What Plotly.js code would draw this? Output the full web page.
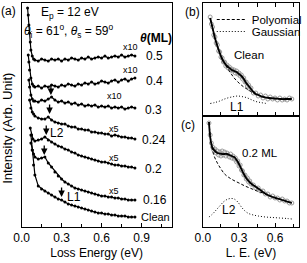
<!DOCTYPE html>
<html><head><meta charset="utf-8">
<script src="https://cdn.plot.ly/plotly-3.0.1.min.js"></script>
<style>html,body{margin:0;padding:0;background:#fff;} #chart{width:307px;height:263px;}</style>
</head><body><div id="chart"></div>
<script>
// ---------- Panel (a): loss spectra (offset, arbitrary units) ----------
const xGrid = [0.100,0.125,0.150,0.175,0.200,0.225,0.250,0.275,0.300,0.325,0.350,0.375,0.400,0.425,0.450,0.475,0.500,0.525,0.550,0.575,0.600,0.625,0.650,0.675,0.700,0.725,0.750,0.775,0.800,0.825,0.850];

const c05_leftX = [0.045,0.050,0.055,0.060,0.065,0.070,0.080,0.090];
const c05_leftY = [219,212,202,194,185,177,171,168];
const c05_y = [167,166,168,167,166,168,167,168,166,168,167,169,168,167,169,168,170,168,169,170,169,171,169,170,171,170,172,170,171,172,171];

const c04_leftX = [0.050,0.055,0.060,0.070,0.080,0.090];
const c04_leftY = [172,165,157,149,143,141];
const c04_y = [140,141,139,141,140,142,141,140,142,141,143,142,141,143,142,144,143,145,143,144,146,145,144,146,147,145,147,148,146,148,149];

const c03_leftX = [0.055,0.060,0.070,0.080,0.090];
const c03_leftY = [147,140,132,128,126];
const c03_y = [126,125,127,126,128,130,127,125,126,124,125,123,124,122,123,121,122,121,122,120,121,120,121,119,120,119,120,118,119,120,119];

const c024_leftX = [0.060,0.070,0.080,0.090];
const c024_leftY = [127,119,115,113];
const c024_y = [111,109,108,108,110,107,105,104,103,103,101,100,100,98,98,97,97,95,95,94,94,93,93,91,92,91,90,90,89,89,88];

const c02_leftX = [0.065,0.075,0.085];
const c02_leftY = [99,92,88];
const c02_y = [86,87,88,90,87,85,83,81,80,78,77,75,74,72,71,70,69,68,67,66,65,65,64,63,62,62,61,61,60,60,59];

const c016_leftX = [0.070,0.080,0.090];
const c016_leftY = [84,77,73];
const c016_y = [70,68,69,70,64,60,55,51,48,45,43,41,39,38,37,36,35,34,33,32,31,31,30,30,29,29,28,28,27,27,27];

const cClean_leftX = [0.070,0.080,0.090];
const cClean_leftY = [92,77,62];
const cClean_y = [52,41,38,36,34,32,30,28,27,25,23,22,21,20,19,18,17,16,15,14,14,13,13,12,12,11,11,11,10,10,10];

// arrows marking loss features (eV, intensity)
const arrowX = [0.22,0.21,0.185,0.17,0.30];
const arrowY = [132,113,92,72,30];

// ---------- Panel (b): clean ----------
const bFitX = [0.06,0.08,0.10,0.12,0.14,0.16,0.18,0.20,0.22,0.24,0.26,0.28,0.30,0.32,0.34,0.36,0.38,0.40,0.42,0.44,0.46,0.48,0.50,0.55,0.60,0.65,0.70,0.74];
const bFitY = [98,88,78,70,63,57,53,50,48,46,45,44,42,40,37,33,30,27,24,22,21,20,19,18,17.5,17,17,17];
const bDataX = [0.06,0.07,0.08,0.09,0.10,0.11,0.12,0.13,0.14,0.15,0.16,0.17,0.18,0.19,0.20,0.21,0.22,0.23,0.24,0.25,0.26,0.27,0.28,0.29,0.30,0.31,0.32,0.33,0.34,0.35,0.36,0.37,0.38,0.39,0.40,0.42,0.44,0.46,0.48,0.50,0.52,0.54,0.56,0.58,0.60,0.62,0.64,0.66,0.68,0.70,0.72,0.74];
const bDataY = [99,92,89,81,79,73,71,65,64,59,58,54,54,50,51,48,49,46,47,45,46,43,45,42,43,40,41,37,38,34,34,30,31,27,28,23,23,20,21,18,20,17,19,17,18,16,18,16,17,16,18,17];
const bPolyX = [0.06,0.10,0.14,0.18,0.22,0.26,0.30,0.34,0.38,0.42,0.46,0.50,0.55,0.60,0.65,0.70,0.74];
const bPolyY = [98,78,63,53,45,38,33,29,26,23,21,19.5,18,17.5,17,16.5,16.5];
const bGaussX = [0.06,0.10,0.14,0.18,0.22,0.26,0.29,0.32,0.36,0.40,0.44,0.48,0.53];
const bGaussY = [12.5,13.5,15,17,18.5,19.5,20,19.5,18.5,16.5,14.5,13.5,12.5];

// ---------- Panel (c): 0.2 ML ----------
const cFitX = [0.05,0.06,0.07,0.08,0.10,0.12,0.14,0.16,0.18,0.20,0.22,0.24,0.26,0.28,0.30,0.32,0.34,0.36,0.38,0.40,0.43,0.46,0.50,0.54,0.58,0.62,0.66,0.70,0.74];
const cFitY = [105,90,83,79,76,74,73.5,73,73,73,72,71,70,67,63,58,53,49,46,43.5,41,38.5,35,32,30,28.5,27,25.5,24];
const cDataX = [0.05,0.06,0.07,0.08,0.09,0.10,0.11,0.12,0.13,0.14,0.15,0.16,0.17,0.18,0.19,0.20,0.21,0.22,0.23,0.24,0.25,0.26,0.27,0.28,0.29,0.30,0.31,0.32,0.33,0.34,0.35,0.36,0.37,0.38,0.39,0.40,0.42,0.44,0.46,0.48,0.50,0.52,0.54,0.56,0.58,0.60,0.62,0.64,0.66,0.68,0.70,0.72,0.74];
const cDataY = [104,92,84,80,77,78,74,76,72,75,71,76,72,75,71,74,72,70,73,69,71,68,69,65,66,61,62,57,56,52,52,48,49,45,46,43,42,39,39,36,36,33,33,30,31,29,29,27,28,26,26,24,24];
const cPolyX = [0.05,0.07,0.09,0.12,0.15,0.18,0.21,0.25,0.30,0.35,0.40,0.45,0.50,0.55,0.60,0.65,0.70,0.74];
const cPolyY = [105,83,72,64,58,53,50,47,44,41,38.5,36,34,31.5,29.5,27.5,25.5,24];
const cGaussX = [0.05,0.08,0.11,0.14,0.17,0.20,0.23,0.26,0.29,0.32,0.35,0.38,0.42,0.46,0.52,0.58,0.64,0.70,0.74];
const cGaussY = [10,13,17,21,25,27.5,28.5,28,25,20,16,13.5,12,11,10,9.5,9,8.5,8];

// ---------- build ----------
const W = 307, H = 263;
const px = v => v / W;
const py = v => 1 - v / H;
const FONT = 'Liberation Sans, Arial, Helvetica, sans-serif';

const spectra = [
  [c05_leftX, c05_leftY, c05_y],
  [c04_leftX, c04_leftY, c04_y],
  [c03_leftX, c03_leftY, c03_y],
  [c024_leftX, c024_leftY, c024_y],
  [c02_leftX, c02_leftY, c02_y],
  [c016_leftX, c016_leftY, c016_y],
  [cClean_leftX, cClean_leftY, cClean_y]
];
const traces = [];
spectra.forEach(s => {
  traces.push({
    x: s[0].concat(xGrid), y: s[1].concat(s[2]), xaxis: 'x', yaxis: 'y',
    mode: 'lines+markers', line: {color: 'black', width: 1.2},
    marker: {color: 'black', size: 3}, showlegend: false, hoverinfo: 'skip'
  });
});

const dataStyle = {mode: 'markers', marker: {symbol: 'circle-open', size: 4, color: '#909090', line: {width: 0.9}}, showlegend: false};
traces.push(Object.assign({x: bDataX, y: bDataY, xaxis: 'x2', yaxis: 'y2'}, dataStyle));
traces.push({x: bFitX, y: bFitY, xaxis: 'x2', yaxis: 'y2', mode: 'lines', line: {color: 'black', width: 1.8, shape: 'spline'}, showlegend: false});
traces.push({x: bPolyX, y: bPolyY, xaxis: 'x2', yaxis: 'y2', mode: 'lines', name: 'Polyomial', legend: 'legend', line: {color: 'black', width: 1, dash: '3px,2px', shape: 'spline'}, showlegend: true});
traces.push({x: bGaussX, y: bGaussY, xaxis: 'x2', yaxis: 'y2', mode: 'lines', name: 'Gaussian', legend: 'legend2', line: {color: 'black', width: 1, dash: '1px,2px', shape: 'spline'}, showlegend: true});

traces.push(Object.assign({x: cDataX, y: cDataY, xaxis: 'x3', yaxis: 'y3'}, dataStyle));
traces.push({x: cFitX, y: cFitY, xaxis: 'x3', yaxis: 'y3', mode: 'lines', line: {color: 'black', width: 1.8, shape: 'spline'}, showlegend: false});
traces.push({x: cPolyX, y: cPolyY, xaxis: 'x3', yaxis: 'y3', mode: 'lines', line: {color: 'black', width: 1, dash: '3px,2px', shape: 'spline'}, showlegend: false});
traces.push({x: cGaussX, y: cGaussY, xaxis: 'x3', yaxis: 'y3', mode: 'lines', line: {color: 'black', width: 1, dash: '1px,2px', shape: 'spline'}, showlegend: false});

function T(text, x, y, size, extra) {
  return Object.assign({text: text, x: px(x), y: py(y), xref: 'paper', yref: 'paper',
    showarrow: false, xanchor: 'center', yanchor: 'middle', font: {size: size, family: FONT, color: 'black'}}, extra || {});
}
const ann = [
  T('(a)', 9, 11, 12),
  T('E<sub>p</sub> = 12 eV', 71, 13, 12),
  T('<i>θ</i><sub>i</sub> = 61<sup>o</sup>, <i>θ</i><sub>s</sub> = 59<sup>o</sup>', 70, 31, 12),
  T('<b><i>θ</i>(ML)</b>', 159, 38, 12),
  T('0.5', 158, 56, 12), T('0.4', 158, 81, 12), T('0.3', 157, 110, 12),
  T('0.24', 157, 140, 12), T('0.2', 157, 169, 12), T('0.16', 158, 200, 12), T('Clean', 159, 217, 11),
  T('x10', 133, 47, 9), T('x10', 133, 70, 9), T('x10', 117, 96, 9),
  T('x5', 116, 129, 9), T('x5', 116, 158, 9), T('x5', 116, 191, 9),
  T('L2', 58, 133, 12), T('L1', 75, 197, 12),
  T('(b)', 196, 12, 12), T('(c)', 192, 125, 12),
  T('Clean', 254, 55, 11.5), T('L1', 242, 107, 12),
  T('0.2 ML', 265, 153, 11.5), T('L2', 234, 210, 12),
  T('Intensity (Arb. Unit)', 8, 128, 13, {textangle: -90})
];
arrowX.forEach((x, i) => {
  ann.push({x: x, y: arrowY[i], xref: 'x', yref: 'y', text: '', showarrow: true,
    ax: 0, ay: -11, arrowhead: 2, arrowsize: 1, arrowwidth: 1.3, arrowcolor: 'black'});
});

const axBase = {showline: true, linecolor: 'black', linewidth: 1, mirror: true, showgrid: false, zeroline: false,
  ticks: 'inside', ticklen: 4, tickcolor: 'black', tickfont: {size: 12, family: FONT, color: 'black'}};
const yBase = {showline: true, linecolor: 'black', linewidth: 1, mirror: true, showgrid: false, zeroline: false,
  ticks: '', showticklabels: false};

const layout = {
  width: W, height: H, margin: {l: 0, r: 0, t: 0, b: 0},
  paper_bgcolor: 'white', plot_bgcolor: 'white',
  font: {family: FONT, size: 12, color: 'black'},
  showlegend: true,
  legend: {x: px(216), xanchor: 'left', y: py(5), yanchor: 'top', bgcolor: 'rgba(0,0,0,0)', font: {size: 11.5, family: FONT}, itemwidth: 30},
  legend2: {x: px(216), xanchor: 'left', y: py(17), yanchor: 'top', bgcolor: 'rgba(0,0,0,0)', font: {size: 11.5, family: FONT}, itemwidth: 30},
  xaxis: Object.assign({}, axBase, {domain: [px(22), px(175)], range: [0, 1.125], tick0: 0, dtick: 0.3, tickformat: '.1f',
    minor: {dtick: 0.15, ticks: 'inside', ticklen: 3, tickcolor: 'black'}, anchor: 'y',
    title: {text: 'Loss Energy (eV)', standoff: 4, font: {size: 12, family: FONT}}}),
  yaxis: Object.assign({}, yBase, {domain: [py(227), py(3)], range: [0, 224], anchor: 'x'}),
  xaxis2: Object.assign({}, axBase, {domain: [px(207), px(305)], range: [0, 0.8], tick0: 0, dtick: 0.15, showticklabels: false, mirror: 'ticks', anchor: 'y2'}),
  yaxis2: Object.assign({}, yBase, {domain: [py(116), py(3)], range: [0, 113], anchor: 'x2'}),
  xaxis3: Object.assign({}, axBase, {domain: [px(207), px(305)], range: [0, 0.8], tick0: 0, dtick: 0.3, tickformat: '.1f',
    minor: {dtick: 0.15, ticks: 'inside', ticklen: 3, tickcolor: 'black'}, anchor: 'y3',
    title: {text: 'L. E. (eV)', standoff: 4, font: {size: 12, family: FONT}}}),
  yaxis3: Object.assign({}, yBase, {domain: [py(227), py(116)], range: [0, 111], anchor: 'x3'}),
  annotations: ann
};
Plotly.newPlot('chart', traces, layout, {staticPlot: true, displayModeBar: false});
</script></body></html>
